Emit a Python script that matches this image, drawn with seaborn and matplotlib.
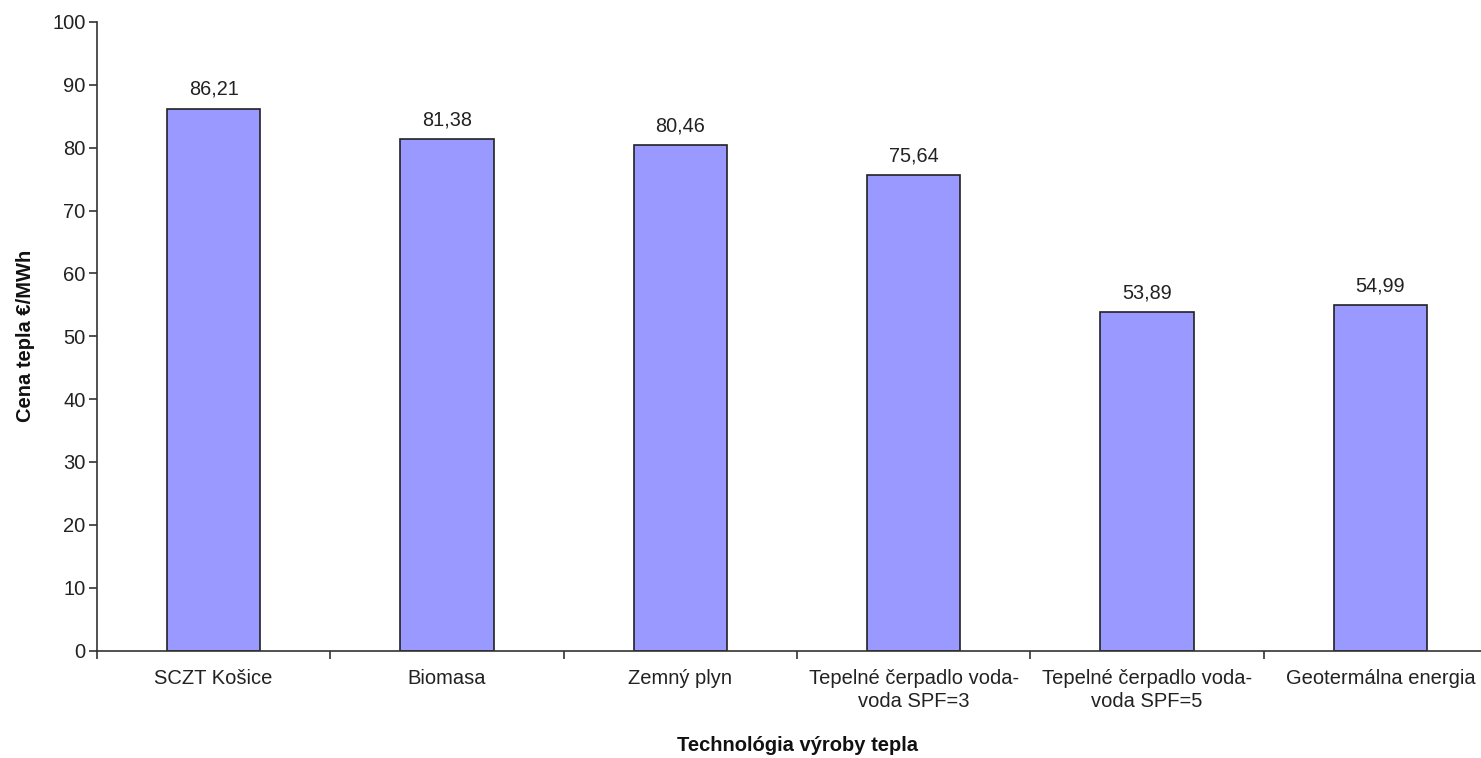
import pandas as pd
import seaborn as sns
import matplotlib.pyplot as plt
from matplotlib.ticker import FixedLocator

categories = ["SCZT Košice", "Biomasa", "Zemný plyn",
              "Tepelné čerpadlo voda-\nvoda SPF=3",
              "Tepelné čerpadlo voda-\nvoda SPF=5",
              "Geotermálna energia"]
prices = [86.21, 81.38, 80.46, 75.64, 53.89, 54.99]
y_ticks = [0, 10, 20, 30, 40, 50, 60, 70, 80, 90, 100]

df = pd.DataFrame({"tech": categories, "price": prices})

sns.set_style("white")
plt.rcParams['font.family'] = ['Liberation Sans', 'DejaVu Sans']

fig = plt.figure(figsize=(14.81, 7.58), dpi=100)
ax = fig.add_axes([0.0655, 0.1418, 0.9453, 0.8292])

sns.barplot(data=df, x="tech", y="price", ax=ax, color="#9999FF",
            edgecolor="#222222", linewidth=1.2, width=0.4, saturation=1)

for i, v in enumerate(prices):
    ax.annotate(f"{v:.2f}".replace(".", ","), (i, v), xytext=(0, 7),
                textcoords="offset points", ha="center", va="bottom",
                fontsize=14.3, color="#222222")

ax.set_xlim(-0.5, len(categories) - 0.5)
ax.set_ylim(0, 100)
ax.set_yticks(y_ticks)
ax.tick_params(axis="y", direction="out", length=5.8, width=1.2, color="#333333",
               labelsize=14.5, labelcolor="#222222", left=True, pad=2.5)
ax.tick_params(axis="x", which="major", length=0, labelsize=14.5,
               labelcolor="#222222", pad=13.5)
for lbl in ax.get_xticklabels():
    lbl.set_linespacing(1.25)
ax.xaxis.set_minor_locator(FixedLocator([i + 0.5 for i in range(-1, len(categories) - 1)]))
ax.tick_params(axis="x", which="minor", direction="out", length=5.8, width=1.2,
               color="#333333", bottom=True)

for s in ["top", "right"]:
    ax.spines[s].set_visible(False)
for s in ["left", "bottom"]:
    ax.spines[s].set_color("#333333")
    ax.spines[s].set_linewidth(1.2)

ax.set_xlabel("Technológia výroby tepla", fontsize=14.5, fontweight="bold",
              labelpad=18, color="#111111")
ax.set_ylabel("Cena tepla €/MWh", fontsize=14.5, fontweight="bold",
              labelpad=12, color="#111111")

plt.savefig("out.png", dpi=100)
